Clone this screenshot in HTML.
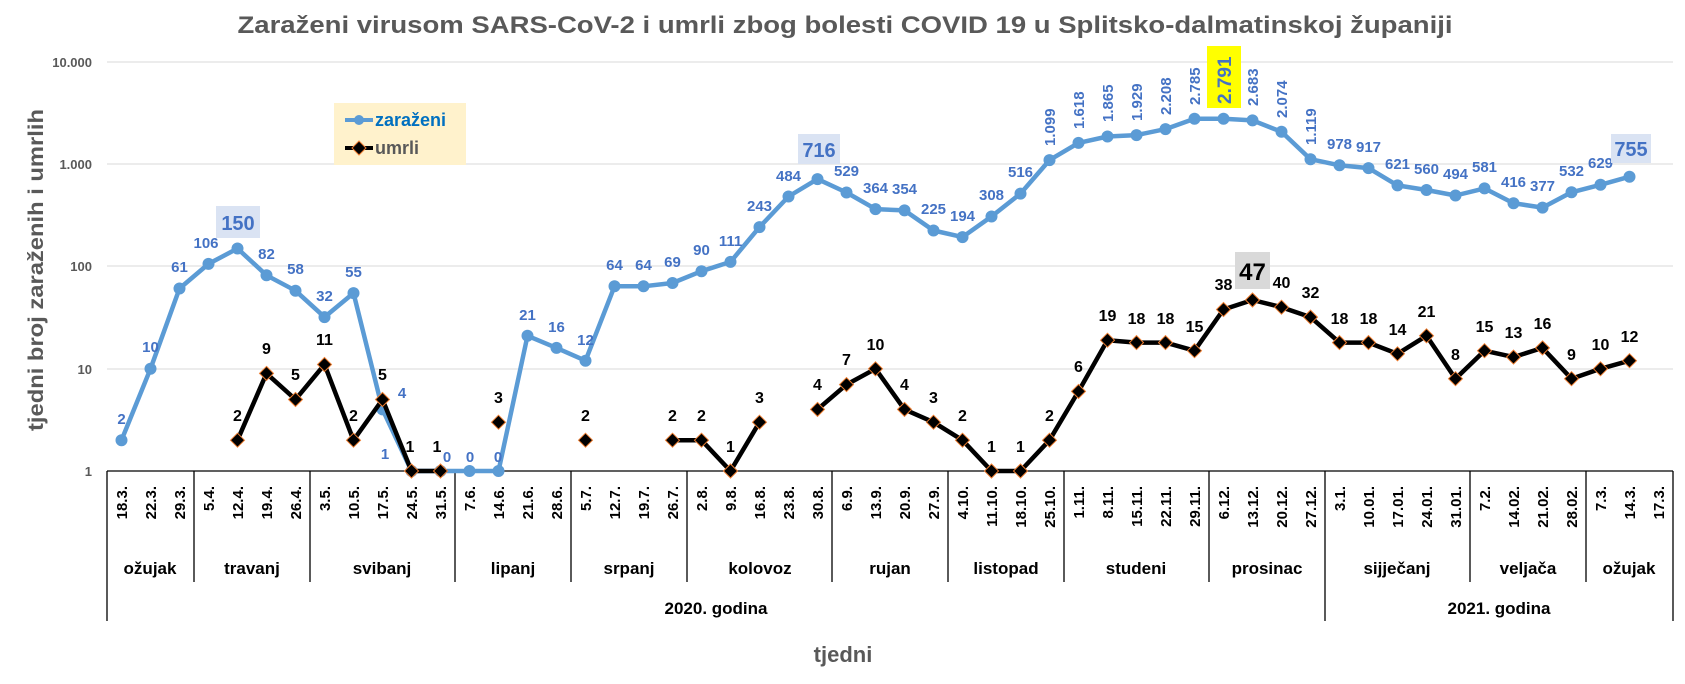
<!DOCTYPE html>
<html><head><meta charset="utf-8"><style>
html,body{margin:0;padding:0;background:#fff;}
svg{display:block;font-family:"Liberation Sans",sans-serif;font-weight:bold;}
.b{fill:#4472c4;font-size:15px;text-anchor:middle;}
.k{fill:#000;font-size:16px;text-anchor:middle;}
.c{fill:#000;font-size:15px;text-anchor:end;}
.m{fill:#000;font-size:17px;text-anchor:middle;}
</style></head><body>
<svg width="1685" height="684" viewBox="0 0 1685 684" xmlns="http://www.w3.org/2000/svg">
<defs><path id="d" d="M0,-7L7,0L0,7L-7,0Z" fill="#000" stroke="#ed7d31" stroke-width="1"/></defs>
<text x="845" y="33" font-size="24" fill="#595959" text-anchor="middle" textLength="1215" lengthAdjust="spacingAndGlyphs">Zaraženi virusom SARS-CoV-2 i umrli zbog bolesti COVID 19 u Splitsko-dalmatinskoj županiji</text>
<!-- grid -->
<g stroke="#d9d9d9" stroke-width="1">
<line x1="107" y1="62" x2="1673" y2="62"/><line x1="107" y1="164" x2="1673" y2="164"/><line x1="107" y1="266" x2="1673" y2="266"/><line x1="107" y1="369" x2="1673" y2="369"/>
</g>
<g fill="#595959" font-size="13" text-anchor="end">
<text x="92" y="67">10.000</text><text x="92" y="169">1.000</text><text x="92" y="271">100</text><text x="92" y="374">10</text><text x="92" y="476">1</text>
</g>
<text transform="translate(43,270) rotate(-90)" font-size="21" fill="#595959" text-anchor="middle" textLength="322" lengthAdjust="spacingAndGlyphs">tjedni broj zaraženih i umrlih</text>
<!-- legend -->
<rect x="334" y="103" width="132" height="62" fill="#fff2cc"/>
<line x1="345" y1="120" x2="373" y2="120" stroke="#5b9bd5" stroke-width="4"/><circle cx="359" cy="120" r="5" fill="#5b9bd5"/>
<text x="375" y="126" font-size="18" fill="#0070c0">zaraženi</text>
<line x1="345" y1="148" x2="373" y2="148" stroke="#000" stroke-width="4"/><use href="#d" x="359" y="148" transform=""/>
<text x="375" y="154" font-size="18" fill="#595959">umrli</text>
<!-- bottom table -->
<g stroke="#000" stroke-width="1.3" fill="none">
<line x1="107" y1="471" x2="1673" y2="471"/>
<line x1="107" y1="471" x2="107" y2="621"/><line x1="1325" y1="471" x2="1325" y2="621"/><line x1="1673" y1="471" x2="1673" y2="621"/>
<line x1="194" y1="471" x2="194" y2="582"/><line x1="310" y1="471" x2="310" y2="582"/><line x1="455" y1="471" x2="455" y2="582"/><line x1="571" y1="471" x2="571" y2="582"/><line x1="687" y1="471" x2="687" y2="582"/><line x1="832" y1="471" x2="832" y2="582"/><line x1="948" y1="471" x2="948" y2="582"/><line x1="1064" y1="471" x2="1064" y2="582"/><line x1="1209" y1="471" x2="1209" y2="582"/><line x1="1470" y1="471" x2="1470" y2="582"/><line x1="1586" y1="471" x2="1586" y2="582"/>
</g>
<g class="c">
<text class="c" transform="translate(127,486) rotate(-90)">18.3.</text>
<text class="c" transform="translate(156,486) rotate(-90)">22.3.</text>
<text class="c" transform="translate(185,486) rotate(-90)">29.3.</text>
<text class="c" transform="translate(214,486) rotate(-90)">5.4.</text>
<text class="c" transform="translate(243,486) rotate(-90)">12.4.</text>
<text class="c" transform="translate(272,486) rotate(-90)">19.4.</text>
<text class="c" transform="translate(301,486) rotate(-90)">26.4.</text>
<text class="c" transform="translate(330,486) rotate(-90)">3.5.</text>
<text class="c" transform="translate(359,486) rotate(-90)">10.5.</text>
<text class="c" transform="translate(388,486) rotate(-90)">17.5.</text>
<text class="c" transform="translate(417,486) rotate(-90)">24.5.</text>
<text class="c" transform="translate(446,486) rotate(-90)">31.5.</text>
<text class="c" transform="translate(475,486) rotate(-90)">7.6.</text>
<text class="c" transform="translate(504,486) rotate(-90)">14.6.</text>
<text class="c" transform="translate(533,486) rotate(-90)">21.6.</text>
<text class="c" transform="translate(562,486) rotate(-90)">28.6.</text>
<text class="c" transform="translate(591,486) rotate(-90)">5.7.</text>
<text class="c" transform="translate(620,486) rotate(-90)">12.7.</text>
<text class="c" transform="translate(649,486) rotate(-90)">19.7.</text>
<text class="c" transform="translate(678,486) rotate(-90)">26.7.</text>
<text class="c" transform="translate(707,486) rotate(-90)">2.8.</text>
<text class="c" transform="translate(736,486) rotate(-90)">9.8.</text>
<text class="c" transform="translate(765,486) rotate(-90)">16.8.</text>
<text class="c" transform="translate(794,486) rotate(-90)">23.8.</text>
<text class="c" transform="translate(823,486) rotate(-90)">30.8.</text>
<text class="c" transform="translate(852,486) rotate(-90)">6.9.</text>
<text class="c" transform="translate(881,486) rotate(-90)">13.9.</text>
<text class="c" transform="translate(910,486) rotate(-90)">20.9.</text>
<text class="c" transform="translate(939,486) rotate(-90)">27.9.</text>
<text class="c" transform="translate(968,486) rotate(-90)">4.10.</text>
<text class="c" transform="translate(997,486) rotate(-90)">11.10.</text>
<text class="c" transform="translate(1026,486) rotate(-90)">18.10.</text>
<text class="c" transform="translate(1055,486) rotate(-90)">25.10.</text>
<text class="c" transform="translate(1084,486) rotate(-90)">1.11.</text>
<text class="c" transform="translate(1113,486) rotate(-90)">8.11.</text>
<text class="c" transform="translate(1142,486) rotate(-90)">15.11.</text>
<text class="c" transform="translate(1171,486) rotate(-90)">22.11.</text>
<text class="c" transform="translate(1200,486) rotate(-90)">29.11.</text>
<text class="c" transform="translate(1229,486) rotate(-90)">6.12.</text>
<text class="c" transform="translate(1258,486) rotate(-90)">13.12.</text>
<text class="c" transform="translate(1287,486) rotate(-90)">20.12.</text>
<text class="c" transform="translate(1316,486) rotate(-90)">27.12.</text>
<text class="c" transform="translate(1345,486) rotate(-90)">3.1.</text>
<text class="c" transform="translate(1374,486) rotate(-90)">10.01.</text>
<text class="c" transform="translate(1403,486) rotate(-90)">17.01.</text>
<text class="c" transform="translate(1432,486) rotate(-90)">24.01.</text>
<text class="c" transform="translate(1461,486) rotate(-90)">31.01.</text>
<text class="c" transform="translate(1490,486) rotate(-90)">7.2.</text>
<text class="c" transform="translate(1519,486) rotate(-90)">14.02.</text>
<text class="c" transform="translate(1548,486) rotate(-90)">21.02.</text>
<text class="c" transform="translate(1577,486) rotate(-90)">28.02.</text>
<text class="c" transform="translate(1606,486) rotate(-90)">7.3.</text>
<text class="c" transform="translate(1635,486) rotate(-90)">14.3.</text>
<text class="c" transform="translate(1664,486) rotate(-90)">17.3.</text>
</g>
<g>
<text class="m" x="150" y="574">ožujak</text><text class="m" x="252" y="574">travanj</text><text class="m" x="382" y="574">svibanj</text><text class="m" x="513" y="574">lipanj</text><text class="m" x="629" y="574">srpanj</text><text class="m" x="760" y="574">kolovoz</text><text class="m" x="890" y="574">rujan</text><text class="m" x="1006" y="574">listopad</text><text class="m" x="1136" y="574">studeni</text><text class="m" x="1267" y="574">prosinac</text><text class="m" x="1397" y="574">sijječanj</text><text class="m" x="1528" y="574">veljača</text><text class="m" x="1629" y="574">ožujak</text>
<text class="m" x="716" y="614">2020. godina</text><text class="m" x="1499" y="614">2021. godina</text>
</g>
<text x="843" y="662" font-size="22" fill="#595959" text-anchor="middle">tjedni</text>
<!-- blue series -->
<polyline fill="none" stroke="#5b9bd5" stroke-width="4.5" stroke-linejoin="round" points="121.5,440.2 150.5,368.8 179.5,288.5 208.5,263.9 237.5,248.5 266.5,275.3 295.5,290.7 324.5,317.1 353.5,293.1 382.5,409.4 411.5,471 440.5,471 469.5,471 498.5,471 527.5,335.8 556.5,347.9 585.5,360.7 614.5,286.3 643.5,286.3 672.5,283.0 701.5,271.2 730.5,261.9 759.5,227.1 788.5,196.5 817.5,179.1 846.5,192.5 875.5,209.1 904.5,210.4 933.5,230.5 962.5,237.1 991.5,216.5 1020.5,193.6 1049.5,160.1 1078.5,142.9 1107.5,136.5 1136.5,135.1 1165.5,129.1 1194.5,118.8 1223.5,118.7 1252.5,120.4 1281.5,131.8 1310.5,159.2 1339.5,165.3 1368.5,168.1 1397.5,185.4 1426.5,190.0 1455.5,195.5 1484.5,188.4 1513.5,203.2 1542.5,207.6 1571.5,192.3 1600.5,184.8 1629.5,176.7"/>
<g fill="#5b9bd5">
<circle cx="121.5" cy="440.2" r="6"/><circle cx="150.5" cy="368.8" r="6"/><circle cx="179.5" cy="288.5" r="6"/><circle cx="208.5" cy="263.9" r="6"/><circle cx="237.5" cy="248.5" r="6"/><circle cx="266.5" cy="275.3" r="6"/><circle cx="295.5" cy="290.7" r="6"/><circle cx="324.5" cy="317.1" r="6"/><circle cx="353.5" cy="293.1" r="6"/><circle cx="382.5" cy="409.4" r="6"/><circle cx="411.5" cy="471" r="6"/><circle cx="440.5" cy="471" r="6"/><circle cx="469.5" cy="471" r="6"/><circle cx="498.5" cy="471" r="6"/><circle cx="527.5" cy="335.8" r="6"/><circle cx="556.5" cy="347.9" r="6"/><circle cx="585.5" cy="360.7" r="6"/><circle cx="614.5" cy="286.3" r="6"/><circle cx="643.5" cy="286.3" r="6"/><circle cx="672.5" cy="283.0" r="6"/><circle cx="701.5" cy="271.2" r="6"/><circle cx="730.5" cy="261.9" r="6"/><circle cx="759.5" cy="227.1" r="6"/><circle cx="788.5" cy="196.5" r="6"/><circle cx="817.5" cy="179.1" r="6"/><circle cx="846.5" cy="192.5" r="6"/><circle cx="875.5" cy="209.1" r="6"/><circle cx="904.5" cy="210.4" r="6"/><circle cx="933.5" cy="230.5" r="6"/><circle cx="962.5" cy="237.1" r="6"/><circle cx="991.5" cy="216.5" r="6"/><circle cx="1020.5" cy="193.6" r="6"/><circle cx="1049.5" cy="160.1" r="6"/><circle cx="1078.5" cy="142.9" r="6"/><circle cx="1107.5" cy="136.5" r="6"/><circle cx="1136.5" cy="135.1" r="6"/><circle cx="1165.5" cy="129.1" r="6"/><circle cx="1194.5" cy="118.8" r="6"/><circle cx="1223.5" cy="118.7" r="6"/><circle cx="1252.5" cy="120.4" r="6"/><circle cx="1281.5" cy="131.8" r="6"/><circle cx="1310.5" cy="159.2" r="6"/><circle cx="1339.5" cy="165.3" r="6"/><circle cx="1368.5" cy="168.1" r="6"/><circle cx="1397.5" cy="185.4" r="6"/><circle cx="1426.5" cy="190.0" r="6"/><circle cx="1455.5" cy="195.5" r="6"/><circle cx="1484.5" cy="188.4" r="6"/><circle cx="1513.5" cy="203.2" r="6"/><circle cx="1542.5" cy="207.6" r="6"/><circle cx="1571.5" cy="192.3" r="6"/><circle cx="1600.5" cy="184.8" r="6"/><circle cx="1629.5" cy="176.7" r="6"/>
</g>
<!-- umrli series -->
<g fill="none" stroke="#000" stroke-width="4.5" stroke-linejoin="round">
<polyline points="237.5,440.2 266.5,373.4 295.5,399.5 324.5,364.5 353.5,440.2 382.5,399.5 411.5,471 440.5,471"/>
<polyline points="672.5,440.2 701.5,440.2 730.5,471 759.5,422.2"/>
<polyline points="817.5,409.4 846.5,384.6 875.5,368.8 904.5,409.4 933.5,422.2 962.5,440.2 991.5,471 1020.5,471 1049.5,440.2 1078.5,391.4 1107.5,340.2 1136.5,342.6 1165.5,342.6 1194.5,350.7 1223.5,309.5 1252.5,300.0 1281.5,307.2 1310.5,317.1 1339.5,342.6 1368.5,342.6 1397.5,353.8 1426.5,335.8 1455.5,378.7 1484.5,350.7 1513.5,357.1 1542.5,347.9 1571.5,378.7 1600.5,368.8 1629.5,360.7"/>
</g>
<g>
<use href="#d" x="237.5" y="440.2"/><use href="#d" x="266.5" y="373.4"/><use href="#d" x="295.5" y="399.5"/><use href="#d" x="324.5" y="364.5"/><use href="#d" x="353.5" y="440.2"/><use href="#d" x="382.5" y="399.5"/><use href="#d" x="411.5" y="471"/><use href="#d" x="440.5" y="471"/>
<use href="#d" x="498.5" y="422.2"/><use href="#d" x="585.5" y="440.2"/>
<use href="#d" x="672.5" y="440.2"/><use href="#d" x="701.5" y="440.2"/><use href="#d" x="730.5" y="471"/><use href="#d" x="759.5" y="422.2"/>
<use href="#d" x="817.5" y="409.4"/><use href="#d" x="846.5" y="384.6"/><use href="#d" x="875.5" y="368.8"/><use href="#d" x="904.5" y="409.4"/><use href="#d" x="933.5" y="422.2"/><use href="#d" x="962.5" y="440.2"/><use href="#d" x="991.5" y="471"/><use href="#d" x="1020.5" y="471"/><use href="#d" x="1049.5" y="440.2"/><use href="#d" x="1078.5" y="391.4"/><use href="#d" x="1107.5" y="340.2"/><use href="#d" x="1136.5" y="342.6"/><use href="#d" x="1165.5" y="342.6"/><use href="#d" x="1194.5" y="350.7"/><use href="#d" x="1223.5" y="309.5"/><use href="#d" x="1252.5" y="300.0"/><use href="#d" x="1281.5" y="307.2"/><use href="#d" x="1310.5" y="317.1"/><use href="#d" x="1339.5" y="342.6"/><use href="#d" x="1368.5" y="342.6"/><use href="#d" x="1397.5" y="353.8"/><use href="#d" x="1426.5" y="335.8"/><use href="#d" x="1455.5" y="378.7"/><use href="#d" x="1484.5" y="350.7"/><use href="#d" x="1513.5" y="357.1"/><use href="#d" x="1542.5" y="347.9"/><use href="#d" x="1571.5" y="378.7"/><use href="#d" x="1600.5" y="368.8"/><use href="#d" x="1629.5" y="360.7"/>
</g>
<!-- blue labels -->
<g class="b">
<text x="121.5" y="424">2</text><text x="150.5" y="352">10</text><text x="179.5" y="272">61</text><text x="206" y="248">106</text>
<text x="266.5" y="259">82</text><text x="295.5" y="274">58</text><text x="324.5" y="301">32</text><text x="353.5" y="277">55</text>
<text x="402" y="398">4</text><text x="385" y="459">1</text><text x="447" y="462">0</text><text x="470" y="462">0</text><text x="498" y="462">0</text>
<text x="527.5" y="320">21</text><text x="556.5" y="332">16</text><text x="585.5" y="345">12</text><text x="614.5" y="270">64</text><text x="643.5" y="270">64</text><text x="672.5" y="267">69</text><text x="701.5" y="255">90</text><text x="730.5" y="246">111</text><text x="759.5" y="211">243</text><text x="788.5" y="181">484</text>
<text x="846.5" y="176">529</text><text x="875.5" y="193">364</text><text x="904.5" y="194">354</text><text x="933.5" y="214">225</text><text x="962.5" y="221">194</text><text x="991.5" y="200">308</text><text x="1020.5" y="177">516</text>
<text x="1339.5" y="149">978</text><text x="1368.5" y="152">917</text><text x="1397.5" y="169">621</text><text x="1426.5" y="174">560</text><text x="1455.5" y="179">494</text><text x="1484.5" y="172">581</text><text x="1513.5" y="187">416</text><text x="1542.5" y="191">377</text><text x="1571.5" y="176">532</text><text x="1600.5" y="168">629</text>
</g>
<g class="b" style="text-anchor:start">
<text transform="translate(1055,146) rotate(-90)">1.099</text>
<text transform="translate(1084,129) rotate(-90)">1.618</text>
<text transform="translate(1113,122) rotate(-90)">1.865</text>
<text transform="translate(1142,121) rotate(-90)">1.929</text>
<text transform="translate(1171,115) rotate(-90)">2.208</text>
<text transform="translate(1200,105) rotate(-90)">2.785</text>
<text transform="translate(1258,106) rotate(-90)">2.683</text>
<text transform="translate(1287,118) rotate(-90)">2.074</text>
<text transform="translate(1316,145) rotate(-90)">1.119</text>
</g>
<rect x="1207" y="46" width="34" height="62" fill="#ffff00"/>
<text transform="translate(1231,104) rotate(-90)" font-size="19" fill="#4472c4">2.791</text>
<rect x="216" y="206" width="44" height="32" fill="#dae3f3"/>
<text x="238" y="230" font-size="20" fill="#4472c4" text-anchor="middle">150</text>
<rect x="798" y="134" width="42" height="30" fill="#dae3f3"/>
<text x="819" y="157" font-size="20" fill="#4472c4" text-anchor="middle">716</text>
<rect x="1611" y="134" width="40" height="29" fill="#dae3f3"/>
<text x="1631" y="156" font-size="20" fill="#4472c4" text-anchor="middle">755</text>
<!-- umrli labels -->
<g class="k">
<text x="237.5" y="421">2</text><text x="266.5" y="354">9</text><text x="295.5" y="380">5</text><text x="324.5" y="345">11</text><text x="353.5" y="421">2</text><text x="382.5" y="380">5</text><text x="410" y="452">1</text><text x="437" y="452">1</text>
<text x="498.5" y="403">3</text><text x="585.5" y="421">2</text>
<text x="672.5" y="421">2</text><text x="701.5" y="421">2</text><text x="730.5" y="452">1</text><text x="759.5" y="403">3</text>
<text x="817.5" y="390">4</text><text x="846.5" y="365">7</text><text x="875.5" y="350">10</text><text x="904.5" y="390">4</text><text x="933.5" y="403">3</text><text x="962.5" y="421">2</text><text x="991.5" y="452">1</text><text x="1020.5" y="452">1</text><text x="1049.5" y="421">2</text><text x="1078.5" y="372">6</text><text x="1107.5" y="321">19</text><text x="1136.5" y="324">18</text><text x="1165.5" y="324">18</text><text x="1194.5" y="332">15</text><text x="1223.5" y="290">38</text>
<text x="1281.5" y="288">40</text><text x="1310.5" y="298">32</text><text x="1339.5" y="324">18</text><text x="1368.5" y="324">18</text><text x="1397.5" y="335">14</text><text x="1426.5" y="317">21</text><text x="1455.5" y="360">8</text><text x="1484.5" y="332">15</text><text x="1513.5" y="338">13</text><text x="1542.5" y="329">16</text><text x="1571.5" y="360">9</text><text x="1600.5" y="350">10</text><text x="1629.5" y="342">12</text>
</g>
<rect x="1235" y="252" width="35" height="37" fill="#d9d9d9"/>
<text x="1252.5" y="280" font-size="24" fill="#000" text-anchor="middle">47</text>
</svg>
</body></html>
